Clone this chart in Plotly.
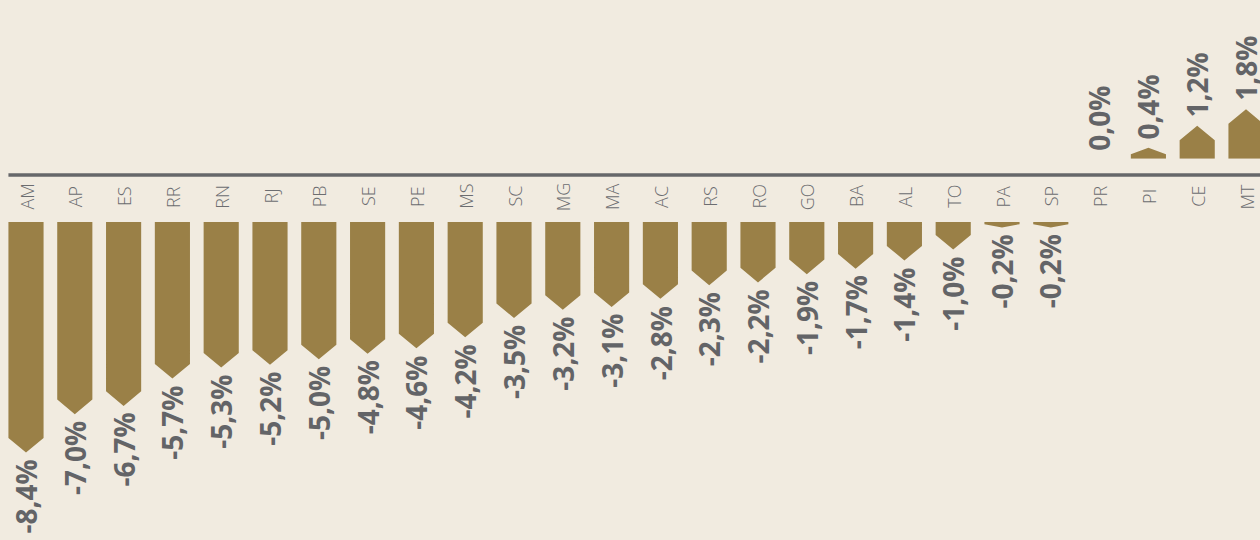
import plotly.graph_objects as go

# Variação por estado (%)
states = ["AM", "AP", "ES", "RR", "RN", "RJ", "PB", "SE", "PE", "MS", "SC", "MG", "MA",
          "AC", "RS", "RO", "GO", "BA", "AL", "TO", "PA", "SP", "PR", "PI", "CE", "MT"]
values = [-8.4, -7.0, -6.7, -5.7, -5.3, -5.2, -5.0, -4.8, -4.6, -4.2, -3.5, -3.2, -3.1,
          -2.8, -2.3, -2.2, -1.9, -1.7, -1.4, -1.0, -0.2, -0.2, 0.0, 0.4, 1.2, 1.8]

W, H = 1260, 540
BG = "#F1EBE0"
BAR = "#9A8047"
VAL_TXT = "#636467"
CAT_TXT = "#6C6D70"

PX_PER_UNIT = 27.45      # vertical pixels per percentage point
POS_BASE_PX = 158.7      # baseline of positive bars (from top)
NEG_BASE_PX = 222.0      # baseline of negative bars (from top)
AXIS_PX = 175.0          # horizontal rule
CAT_PX = 196.5           # centre of state labels
BAR_W = 0.72
TIP_MAX = 0.53

half = BAR_W / 2


def arrow(i, v):
    """Pentagon (bar with pointed end) for value v at slot i."""
    t = min(TIP_MAX, 0.6 * abs(v))
    s = 1 if v > 0 else -1
    return ([i - half, i + half, i + half, i, i - half, i - half, None],
            [0, 0, v - s * t, v, v - s * t, 0, None])


pos_x, pos_y, neg_x, neg_y = [], [], [], []
for i, v in enumerate(values):
    if v == 0:
        continue
    xs, ys = arrow(i, v)
    if v > 0:
        pos_x += xs
        pos_y += ys
    else:
        neg_x += xs
        neg_y += ys

fig = go.Figure()
fig.add_trace(go.Scatter(x=pos_x, y=pos_y, mode="lines", fill="toself",
                         fillcolor=BAR, line=dict(width=0, color=BAR),
                         hoverinfo="skip", yaxis="y"))
fig.add_trace(go.Scatter(x=neg_x, y=neg_y, mode="lines", fill="toself",
                         fillcolor=BAR, line=dict(width=0, color=BAR),
                         hoverinfo="skip", yaxis="y2"))

annotations = []
for i, (s, v) in enumerate(zip(states, values)):
    txt = f"{v:.1f}%".replace(".", ",")
    if v >= 0:
        annotations.append(dict(x=i, y=v, xref="x", yref="y", text=txt,
                                textangle=-90, showarrow=False,
                                xanchor="center", yanchor="bottom", yshift=6,
                                font=dict(family="Open Sans", size=28,
                                          color=VAL_TXT, weight="bold")))
    else:
        annotations.append(dict(x=i, y=v, xref="x", yref="y2", text=txt,
                                textangle=-90, showarrow=False,
                                xanchor="center", yanchor="top", yshift=-5,
                                font=dict(family="Open Sans", size=28,
                                          color=VAL_TXT, weight="bold")))
    annotations.append(dict(x=i, y=(H - CAT_PX) / H, xref="x", yref="paper",
                            text=s, textangle=-90, showarrow=False,
                            xanchor="center", yanchor="middle",
                            font=dict(family="Open Sans", size=18,
                                      color=CAT_TXT, weight=300)))

x_left_px = 26.0
slot_px = 48.8
x_range = [-x_left_px / slot_px, (W - x_left_px) / slot_px]

fig.update_layout(
    width=W, height=H,
    margin=dict(l=0, r=0, t=0, b=0),
    paper_bgcolor=BG, plot_bgcolor=BG,
    showlegend=False,
    xaxis=dict(range=x_range, visible=False, fixedrange=True),
    yaxis=dict(domain=[(H - POS_BASE_PX) / H, 1],
               range=[0, POS_BASE_PX / PX_PER_UNIT], visible=False),
    yaxis2=dict(domain=[0, (H - NEG_BASE_PX) / H],
                range=[-(H - NEG_BASE_PX) / PX_PER_UNIT, 0], visible=False,
                anchor="x"),
    annotations=annotations,
    shapes=[dict(type="line", xref="x", yref="paper",
                 x0=-half, x1=x_range[1],
                 y0=(H - AXIS_PX) / H, y1=(H - AXIS_PX) / H,
                 line=dict(color="#66676A", width=3.5))],
)

fig.write_html("out.html")
